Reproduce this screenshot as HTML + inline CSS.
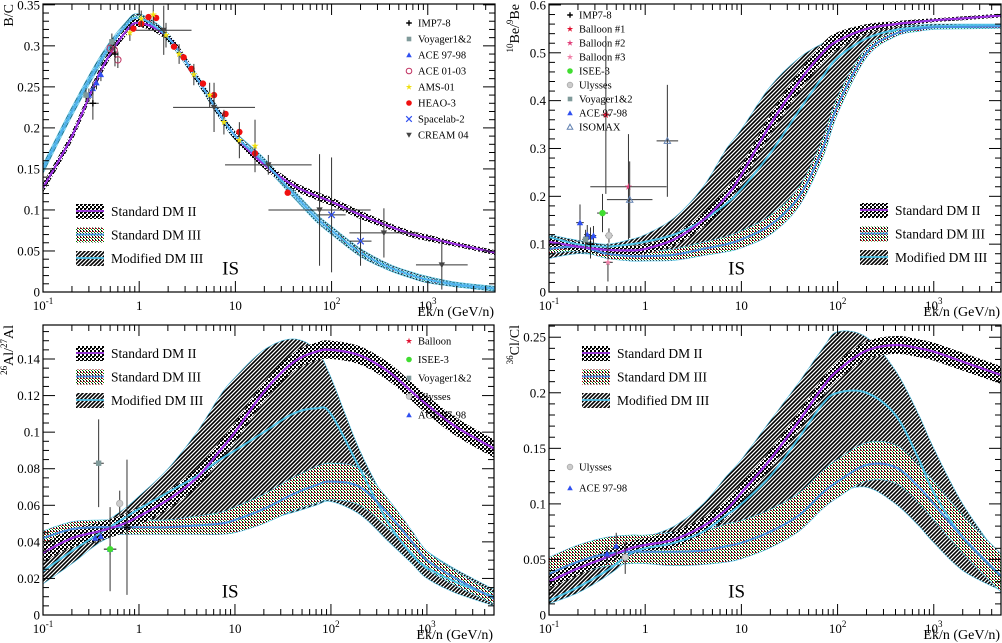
<!DOCTYPE html>
<html><head><meta charset="utf-8">
<style>
html,body{margin:0;padding:0;background:#fff;}
svg{display:block;font-family:"Liberation Serif",serif;}
</style></head>
<body>
<svg id="fig" width="1002" height="643" viewBox="0 0 1002 643" xmlns="http://www.w3.org/2000/svg">
<defs>
<pattern id="pDM2" width="4" height="4" patternUnits="userSpaceOnUse"><rect width="4" height="4" fill="#fff"/><rect x="0" y="0" width="2" height="2" fill="#000"/><rect x="2" y="2" width="2" height="2" fill="#000"/><rect x="2" y="0" width="1" height="1" fill="#222"/></pattern>
<pattern id="pMod" width="4" height="4" patternUnits="userSpaceOnUse"><rect width="4" height="4" fill="#fff"/><path d="M-1,1 L1,-1 M0,4 L4,0 M3,5 L5,3" stroke="#000" stroke-width="1.6"/></pattern>
<pattern id="pDM3" width="3" height="3" patternUnits="userSpaceOnUse"><rect width="3" height="3" fill="#fff"/><rect x="0" y="0" width="1" height="1" fill="#c00"/><rect x="1" y="1" width="1" height="1" fill="#080"/><rect x="2" y="2" width="1" height="1" fill="#000"/><rect x="2" y="0" width="1" height="1" fill="#333"/></pattern>
</defs>
<g id="root"></g>
</svg>
<script>
// shared energy grid (GeV/n)
const E = [0.1,0.2,0.4,0.7,1,2,4,7,10,20,40,70,100,200,400,700,1000,2000,5000];

// ---- Panel 1: B/C ----
const bcPurple = [0.127,0.19,0.27,0.315,0.328,0.31,0.26,0.215,0.19,0.155,0.13,0.117,0.11,0.094,0.08,0.07,0.066,0.058,0.048];
const bcBlue   = [0.15,0.22,0.283,0.322,0.334,0.31,0.26,0.215,0.19,0.158,0.12,0.09,0.075,0.048,0.03,0.02,0.015,0.009,0.004];
const bcWidth  = [0.006,0.006,0.006,0.005,0.005,0.005,0.005,0.005,0.005,0.005,0.005,0.005,0.005,0.005,0.004,0.004,0.004,0.003,0.003];
const bcPtX  = [0.87,1.05,1.25,1.5,2.3,2.9,3.5,4.6,6,7.9,11,16,35, 0.8,1.05,1.4,1.9,2.6,3.7,5.4,7.6,11,16, 0.3,0.33,0.36,0.4, 0.5,0.55,0.6, 0.28,0.52, 0.33,0.56, 100,200, 1.8,6,22,75,350,1400];
const bcPtY  = [0.321,0.327,0.335,0.334,0.299,0.286,0.272,0.254,0.24,0.217,0.195,0.169,0.121, 0.316,0.333,0.338,0.313,0.29,0.265,0.24,0.207,0.185,0.178, 0.24,0.248,0.255,0.265, 0.297,0.295,0.283, 0.24,0.305, 0.23,0.29, 0.094,0.062, 0.319,0.225,0.155,0.1,0.072,0.033];
const bcPtEy = [0,0,0,0,0,0,0,0,0,0,0,0,0, 0.01,0.01,0.012,0.015,0.012,0.013,0.015,0.015,0.022,0.032, 0.008,0.008,0.008,0.008, 0.005,0.005,0.01, 0.008,0.01, 0.02,0.015, 0.07,0.03, 0.03,0.03,0.012,0.068,0.03,0.03];
const bcPtEx = [0,0,0,0,0,0,0,0,0,0,0,0,0, 0,0,0,0,0,0,0,0,0,0, 0,0,0,0, 0,0,0, 0,0, 0.05,0.05, 40,60, 1.7,10,40,180,450,1200];
const bcPtM  = ['circ','circ','circ','circ','circ','circ','circ','circ','circ','circ','circ','circ','circ','star','star','star','star','star','star','star','star','star','star','tri','tri','tri','tri','ocirc','ocirc','ocirc','sq','sq','plus','plus','x','x','tdn','tdn','tdn','tdn','tdn','tdn'];

// ---- Panel 2: 10Be/9Be ----
const bePurple = [0.105,0.095,0.088,0.087,0.09,0.11,0.15,0.2,0.245,0.35,0.44,0.5,0.525,0.55,0.56,0.565,0.568,0.572,0.578];
const beMod    = [0.115,0.1,0.095,0.1,0.105,0.12,0.15,0.185,0.215,0.29,0.38,0.45,0.49,0.53,0.548,0.553,0.555,0.557,0.558];
const beStd3   = [0.09,0.095,0.08,0.075,0.075,0.078,0.09,0.1,0.11,0.14,0.2,0.3,0.39,0.5,0.54,0.55,0.553,0.554,0.555];
const beBandHi = [0.12,0.108,0.1,0.11,0.12,0.155,0.22,0.3,0.34,0.43,0.49,0.52,0.535,0.55,0.555,0.558,0.56,0.56,0.56];
const beBandLo = [0.07,0.08,0.075,0.065,0.065,0.068,0.08,0.09,0.1,0.13,0.2,0.3,0.4,0.5,0.545,0.55,0.552,0.553,0.553];
const beWidth  = [0.01,0.01,0.01,0.01,0.01,0.012,0.014,0.016,0.018,0.02,0.02,0.02,0.018,0.01,0.006,0.005,0.004,0.004,0.004];
const bePtX  = [0.39,0.67,0.21,0.25,0.27,0.29,0.36,0.42,0.24,0.69,1.7,0.41,0.27];
const bePtY  = [0.37,0.22,0.145,0.12,0.115,0.118,0.165,0.118,0.11,0.193,0.316,0.062,0.1];
const bePtEy = [0.165,0.11,0.038,0.02,0.02,0.02,0.04,0.015,0.02,0.08,0.117,0.04,0.03];
const bePtEx = [0.05,1.0,0.02,0.02,0.02,0.02,0.05,0.04,0.02,0.5,0.5,0.05,0.03];
const bePtM  = ['starR','starP','tri','tri','tri','tri','circG','hex','sq','otri','otri','starL','plus'];

// ---- Panel 3: 26Al/27Al ----
const alPurple = [0.034,0.042,0.046,0.05,0.054,0.063,0.075,0.09,0.1,0.122,0.138,0.144,0.145,0.142,0.133,0.122,0.115,0.103,0.091];
const alMod    = [0.024,0.035,0.045,0.053,0.058,0.067,0.076,0.085,0.09,0.1,0.11,0.113,0.11,0.08,0.05,0.033,0.026,0.018,0.01];
const alStd3   = [0.042,0.047,0.048,0.048,0.048,0.048,0.049,0.05,0.052,0.058,0.066,0.071,0.073,0.07,0.055,0.04,0.03,0.02,0.009];
const alBandHi = [0.04,0.045,0.05,0.058,0.065,0.08,0.1,0.12,0.13,0.145,0.151,0.145,0.13,0.09,0.06,0.043,0.035,0.025,0.014];
const alBandLo = [0.017,0.028,0.04,0.045,0.045,0.046,0.047,0.048,0.049,0.052,0.056,0.06,0.062,0.055,0.04,0.028,0.02,0.012,0.005];
const alWidth  = [0.004,0.004,0.004,0.004,0.004,0.004,0.005,0.006,0.007,0.008,0.009,0.01,0.01,0.01,0.008,0.006,0.005,0.004,0.003];
const alPtX  = [0.38,0.35,0.4,0.5,0.5,0.63,0.75];
const alPtY  = [0.083,0.042,0.043,0.036,0.036,0.061,0.048];
const alPtEy = [0.024,0.003,0.003,0.023,0.003,0.007,0.037];
const alPtEx = [0.05,0.02,0.02,0.08,0.08,0.05,0.1];
const alPtM  = ['sq','tri','tri','tri','circG','hex','plus'];

// ---- Panel 4: 36Cl/Cl ----
const clPurple = [0.03,0.042,0.052,0.06,0.063,0.068,0.08,0.095,0.11,0.14,0.175,0.205,0.22,0.238,0.243,0.24,0.237,0.228,0.216];
const clMod    = [0.013,0.025,0.04,0.055,0.06,0.065,0.075,0.09,0.1,0.125,0.16,0.19,0.2,0.2,0.18,0.14,0.11,0.07,0.035];
const clStd3   = [0.037,0.048,0.055,0.057,0.057,0.057,0.058,0.062,0.065,0.075,0.09,0.11,0.12,0.135,0.133,0.115,0.1,0.07,0.035];
const clBandHi = [0.04,0.05,0.058,0.065,0.07,0.08,0.1,0.125,0.14,0.175,0.21,0.24,0.255,0.25,0.22,0.18,0.15,0.1,0.05];
const clBandLo = [0.01,0.02,0.035,0.05,0.052,0.052,0.052,0.055,0.06,0.07,0.085,0.1,0.11,0.115,0.1,0.08,0.065,0.04,0.022];
const clWidth  = [0.006,0.006,0.006,0.006,0.006,0.007,0.007,0.008,0.008,0.008,0.008,0.008,0.008,0.008,0.008,0.008,0.008,0.008,0.008];
const clPtX  = [0.4,0.5,0.62];
const clPtY  = [0.055,0.062,0.052];
const clPtEy = [0.007,0.012,0.015];
const clPtEx = [0.03,0.03,0.03];
const clPtM  = ['tri','tri','hex'];

const NS = "http://www.w3.org/2000/svg";
const root = document.getElementById('root');
function mk(tag, attrs, parent){ const e=document.createElementNS(NS,tag); for(const k in attrs) e.setAttribute(k,attrs[k]); (parent||root).appendChild(e); return e; }

const panels = [
 {id:'bc', x0:43,x1:495,y0:4,y1:292,ymin:0,ymax:0.351,major:0.05,minor:0.01},
 {id:'be', x0:549,x1:1001,y0:4,y1:292,ymin:0,ymax:0.602,major:0.1,minor:0.02},
 {id:'al', x0:43,x1:494,y0:325,y1:615,ymin:0,ymax:0.1586,major:0.02,minor:0.005},
 {id:'cl', x0:549,x1:1001,y0:325,y1:615,ymin:0,ymax:0.261,major:0.05,minor:0.01}
];
function axX(p,e){ return p.x0+(Math.log10(e)+1)/Math.log10(50000)*(p.x1-p.x0); }
function axY(p,v){ return p.y1-(v-p.ymin)/(p.ymax-p.ymin)*(p.y1-p.y0); }

function smooth(pts){
  let d='M'+pts[0][0].toFixed(1)+','+pts[0][1].toFixed(1);
  for(let i=0;i<pts.length-1;i++){
    const p0=pts[Math.max(0,i-1)],p1=pts[i],p2=pts[i+1],p3=pts[Math.min(pts.length-1,i+2)];
    const c1=[p1[0]+(p2[0]-p0[0])/6,p1[1]+(p2[1]-p0[1])/6];
    const c2=[p2[0]-(p3[0]-p1[0])/6,p2[1]-(p3[1]-p1[1])/6];
    d+=' C'+c1[0].toFixed(1)+','+c1[1].toFixed(1)+' '+c2[0].toFixed(1)+','+c2[1].toFixed(1)+' '+p2[0].toFixed(1)+','+p2[1].toFixed(1);
  }
  return d;
}
function bandPath(p,lo,hi){
  const up=E.map((e,i)=>[axX(p,e),axY(p,hi[i])]);
  const dn=E.map((e,i)=>[axX(p,e),axY(p,lo[i])]).reverse();
  let d=smooth(up); d+=' L'+smooth(dn).slice(1); return d+' Z';
}
function band(p,g,lo,hi,pat,name,edge){
  const b=mk('path',{d:bandPath(p,lo,hi),fill:'url(#'+pat+')',stroke:edge||'#4fc3e8','stroke-width':0.6},g);
  
  
}
function curve(p,g,vals,color,w,name){
  const c=mk('path',{d:smooth(E.map((e,i)=>[axX(p,e),axY(p,vals[i])])),fill:'none',stroke:color,'stroke-width':w},g);
  
  
}
const mcol={circ:'#f01010',star:'#f0e010',starR:'#e01030',starP:'#e0407a',starL:'#f080a8',tri:'#3050f0',ocirc:'#c03060',sq:'#7f9a9a',plus:'#000',x:'#3050f0',tdn:'#444',hex:'#bbb',otri:'#6080b0',circG:'#40dd30'};
function marker(g,m,x,y,s){
  const c=mcol[m]; s=s||3.2;
  if(m==='circ'||m==='circG') return mk('circle',{cx:x,cy:y,r:s,fill:c},g);
  if(m==='ocirc') return mk('circle',{cx:x,cy:y,r:s,fill:'none',stroke:c,'stroke-width':1},g);
  if(m==='sq') return mk('rect',{x:x-s+0.5,y:y-s+0.5,width:2*s-1,height:2*s-1,fill:c},g);
  if(m==='tri') return mk('path',{d:`M${x},${y-s} L${x+s},${y+s*0.8} L${x-s},${y+s*0.8}Z`,fill:c},g);
  if(m==='otri') return mk('path',{d:`M${x},${y-s} L${x+s},${y+s*0.8} L${x-s},${y+s*0.8}Z`,fill:'none',stroke:c,'stroke-width':1},g);
  if(m==='tdn') return mk('path',{d:`M${x},${y+s} L${x+s},${y-s*0.8} L${x-s},${y-s*0.8}Z`,fill:c},g);
  if(m==='hex') return mk('circle',{cx:x,cy:y,r:s,fill:'#ccc',stroke:'#aaa','stroke-width':0.8},g);
  if(m==='plus') return mk('path',{d:`M${x-s},${y}H${x+s}M${x},${y-s}V${y+s}`,stroke:c,'stroke-width':1.4},g);
  if(m==='x') return mk('path',{d:`M${x-s},${y-s}L${x+s},${y+s}M${x-s},${y+s}L${x+s},${y-s}`,stroke:c,'stroke-width':1.2},g);
  if(m.startsWith('star')){ let d=''; for(let k=0;k<10;k++){const r=k%2?s*0.45:s*1.2;const a=-Math.PI/2+k*Math.PI/5; d+=(k?'L':'M')+(x+r*Math.cos(a)).toFixed(1)+','+(y+r*Math.sin(a)).toFixed(1);} return mk('path',{d:d+'Z',fill:c},g); }
}
function points(p,g,X,Y,EY,EX,M){
  for(let i=0;i<X.length;i++){
    const x=axX(p,X[i]),y=axY(p,Y[i]);
    const pg=mk('g',{},g);
    
    
    if(EY[i]>0) mk('line',{x1:x,x2:x,y1:axY(p,Y[i]-EY[i]),y2:axY(p,Y[i]+EY[i]),stroke:'#333','stroke-width':1},pg);
    if(EX[i]>0) mk('line',{x1:axX(p,X[i]*X[i]/(X[i]+EX[i])),x2:axX(p,X[i]+EX[i]),y1:y,y2:y,stroke:'#333','stroke-width':1},pg);
    marker(pg,M[i],x,y);
  }
}
function frame(p,g,ylabel,idx){
  mk('rect',{x:p.x0,y:p.y0,width:p.x1-p.x0,height:p.y1-p.y0,fill:'none',stroke:'#000','stroke-width':1.2},g);
  const tk=mk('g',{stroke:'#000','stroke-width':1},g);
  
  
  for(let d=-1;d<=3;d++){
    for(let m=1;m<=9;m++){
      const e=m*Math.pow(10,d); if(e>5000) break;
      const x=axX(p,e); const L=m===1?11:6;
      mk('line',{x1:x,x2:x,y1:p.y1,y2:p.y1-L},tk); mk('line',{x1:x,x2:x,y1:p.y0,y2:p.y0+L},tk);
    }
  }
  const nmin=Math.round((p.ymax-p.ymin)/p.minor);
  for(let k=0;k<=nmin;k++){
    const v=p.ymin+k*p.minor; if(v>p.ymax) break; const y=axY(p,v);
    const maj=Math.abs(v/p.major-Math.round(v/p.major))<1e-6; const L=maj?12:6;
    mk('line',{x1:p.x0,x2:p.x0+L,y1:y,y2:y},tk); mk('line',{x1:p.x1,x2:p.x1-L,y1:y,y2:y},tk);
    if(maj){
      const t=mk('text',{x:p.x0-3,y:y+4.5,'text-anchor':'end','font-size':13},g);
      t.textContent=(v===0?'0':(+v.toFixed(3)).toString());
      
      
    }
  }
  const xl=[[0.1,'10','-1'],[1,'1',''],[10,'10',''],[100,'10','2'],[1000,'10','3']];
  xl.forEach(([e,b,s])=>{
    const t=mk('text',{x:axX(p,e),y:p.y1+18,'text-anchor':'middle','font-size':13},g);
    
    
    t.appendChild(document.createTextNode(b));
    if(s){ const ts=mk('tspan',{dy:-6,'font-size':9},t); ts.textContent=s; }
  });
  const xt=mk('text',{x:p.x1-1,y:p.y1+24,'text-anchor':'end','font-size':14},g);
  xt.textContent='Ek/n (GeV/n)';
  
  
  const yt=mk('text',{transform:`translate(${p.x0-30},${p.y0}) rotate(-90)`,'text-anchor':'end','font-size':14},g);
  
  
  ylabel.forEach(([txt,sup])=>{ const ts=mk('tspan',sup?{'font-size':9,dy:-6}:{dy:sup===false?6:0},yt); ts.textContent=txt; });
  const is=mk('text',{x:p.x0+(p.x1-p.x0)*0.415,y:p.y0+(p.y1-p.y0)*0.94,'text-anchor':'middle','font-size':19},g);
  is.textContent='IS';
  
  
}
function dmLegend(g,x,y){
  const items=[['Standard DM II','pDM2','#9b30e0'],['Standard DM III','pDM3','#4a90e0'],['Modified DM III','pMod','#4fc3e8']];
  items.forEach(([t,pat,c],i)=>{
    const yy=y+i*23.5;
    const e=mk('g',{},g);
    
    
    mk('rect',{x:x,y:yy-7,width:28,height:15,fill:'url(#'+pat+')'},e);
    mk('line',{x1:x,x2:x+28,y1:yy,y2:yy,stroke:c,'stroke-width':1.8},e);
    const tx=mk('text',{x:x+35,y:yy+5,'font-size':13.5},e); tx.textContent=t;
  });
}
function dataLegend(g,x,y,dy,names,marks){
  names.forEach((n,i)=>{
    const yy=y+i*dy; const e=mk('g',{},g);
    
    
    marker(e,marks[i],x,yy,2.8);
    const t=mk('text',{x:x+9,y:yy+3.5,'font-size':10.5},e); t.textContent=n;
  });
}

panels.forEach((p,idx)=>{
  const g=mk('g',{});
  
  
  const cp=mk('clipPath',{id:'clip'+idx},g); mk('rect',{x:p.x0,y:p.y0,width:p.x1-p.x0,height:p.y1-p.y0},cp);
  const pl=mk('g',{'clip-path':'url(#clip'+idx+')'},g);
  
  
  let L;
  if(p.id==='bc'){
    band(p,pl,bcBlue.map((v,i)=>v-bcWidth[i]),bcBlue.map((v,i)=>v+bcWidth[i]),'pMod','band-modified-dm3');
    band(p,pl,bcBlue.map((v,i)=>v-bcWidth[i]*0.6),bcBlue.map((v,i)=>v+bcWidth[i]*0.6),'pDM3','band-standard-dm3');
    band(p,pl,bcPurple.map((v,i)=>v-bcWidth[i]),bcPurple.map((v,i)=>v+bcWidth[i]),'pDM2','band-standard-dm2','none');
    curve(p,pl,bcPurple,'#9b30e0',2.2,'curve-standard-dm2');
    curve(p,pl,bcBlue,'#4fb3f0',2.2,'curve-dm3');
    points(p,pl,bcPtX,bcPtY,bcPtEy,bcPtEx,bcPtM);
    dmLegend(g,76,211);
    dataLegend(g,409,23,16,['IMP7-8','Voyager1&2','ACE 97-98','ACE 01-03','AMS-01','HEAO-3','Spacelab-2','CREAM 04'],['plus','sq','tri','ocirc','star','circ','x','tdn']);
    L=[['B/C',0]];
  } else if(p.id==='be'){
    band(p,pl,beBandLo,beBandHi,'pMod','band-modified-dm3');
    band(p,pl,beStd3.map((v,i)=>v-beWidth[i]),beStd3.map((v,i)=>v+beWidth[i]),'pDM3','band-standard-dm3');
    band(p,pl,bePurple.map((v,i)=>v-beWidth[i]),bePurple.map((v,i)=>v+beWidth[i]),'pDM2','band-standard-dm2','none');
    curve(p,pl,beMod,'#4fc3e8',2,'curve-modified-dm3');
    curve(p,pl,beStd3,'#4a90e0',2,'curve-standard-dm3');
    curve(p,pl,bePurple,'#9b30e0',2.2,'curve-standard-dm2');
    points(p,pl,bePtX,bePtY,bePtEy,bePtEx,bePtM);
    dataLegend(g,570,15,14,['IMP7-8','Balloon #1','Balloon #2','Balloon #3','ISEE-3','Ulysses','Voyager1&2','ACE 97-98','ISOMAX'],['plus','starR','starP','starL','circG','hex','sq','tri','otri']);
    dmLegend(g,860,210);
    L=[['10',1],['Be/',false],['9',1],['Be',false]];
  } else if(p.id==='al'){
    band(p,pl,alBandLo,alBandHi,'pMod','band-modified-dm3');
    band(p,pl,alStd3.map((v,i)=>v-alWidth[i]),alStd3.map((v,i)=>v+alWidth[i]),'pDM3','band-standard-dm3');
    band(p,pl,alPurple.map((v,i)=>v-0.005),alPurple.map((v,i)=>v+0.005),'pDM2','band-standard-dm2','none');
    curve(p,pl,alMod,'#4fc3e8',2,'curve-modified-dm3');
    curve(p,pl,alStd3,'#4a90e0',2,'curve-standard-dm3');
    curve(p,pl,alPurple,'#9b30e0',2.2,'curve-standard-dm2');
    points(p,pl,alPtX,alPtY,alPtEy,alPtEx,alPtM);
    dmLegend(g,76,353);
    dataLegend(g,409,341,18.5,['Balloon','ISEE-3','Voyager1&2','Ulysses','ACE 97-98'],['starR','circG','sq','hex','tri']);
    L=[['26',1],['Al/',false],['27',1],['Al',false]];
  } else {
    band(p,pl,clBandLo,clBandHi,'pMod','band-modified-dm3');
    band(p,pl,clStd3.map((v,i)=>v-clWidth[i]*1.8),clStd3.map((v,i)=>v+clWidth[i]*2.5),'pDM3','band-standard-dm3');
    band(p,pl,clPurple.map((v,i)=>v-clWidth[i]),clPurple.map((v,i)=>v+clWidth[i]),'pDM2','band-standard-dm2','none');
    curve(p,pl,clMod,'#4fc3e8',2,'curve-modified-dm3');
    curve(p,pl,clStd3,'#4a90e0',2,'curve-standard-dm3');
    curve(p,pl,clPurple,'#9b30e0',2.2,'curve-standard-dm2');
    points(p,pl,clPtX,clPtY,clPtEy,clPtEx,clPtM);
    dmLegend(g,582,353);
    dataLegend(g,570,467,21,['Ulysses','ACE 97-98'],['hex','tri']);
    L=[['36',1],['Cl/Cl',false]];
  }
  frame(p,g,L,idx);
});
</script>
</body></html>
